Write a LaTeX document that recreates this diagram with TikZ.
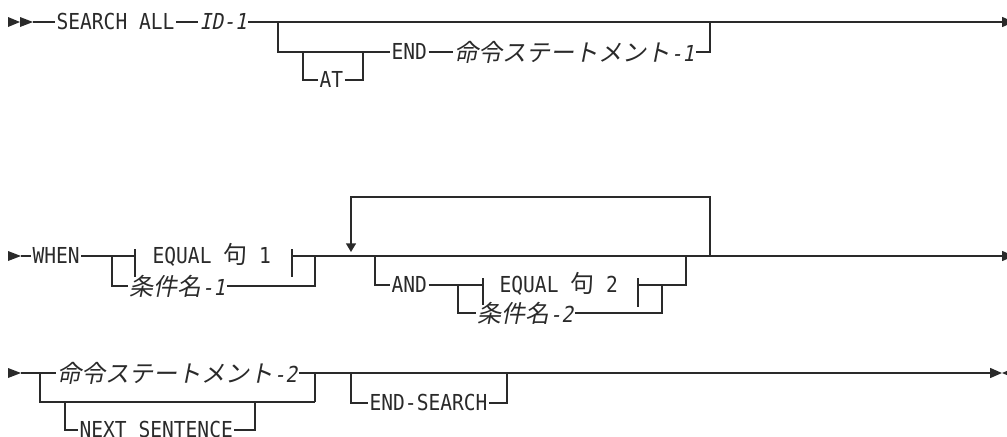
\documentclass[tikz,border=0pt]{standalone}
\usepackage{fontspec}
\usetikzlibrary{arrows.meta}
\newfontfamily\rr[FakeStretch=0.89]{DejaVu Sans Mono}
\newfontfamily\ri[FakeStretch=0.89,FakeSlant=0.2]{DejaVu Sans Mono}
\newfontfamily\jp[FakeSlant=0.2]{Noto Sans CJK JP}
\newfontfamily\jpu{Noto Sans CJK JP}
\definecolor{ink}{HTML}{2A2A2A}
\tikzset{
  lbl/.style={anchor=base west, inner xsep=1pt, inner ysep=0pt, text=ink,
    font=\rr\fontsize{16.5}{18}\selectfont},
  ital/.style={font=\ri\fontsize{16.5}{18}\selectfont},
  jlbl/.style={lbl, font=\jp\fontsize{18}{20}\selectfont},
  rail/.style={draw=ink, line width=1.1pt},
  endtip/.style={-{Triangle[length=9pt,width=7.5pt]}},
  looptip/.style={-{Triangle[length=6.5pt,width=7.5pt]}},
  head/.style={fill=ink}
}
\newcommand\mdash[1]{{\ri\fontsize{16.5}{18}\selectfont #1}}
\begin{document}
\begin{tikzpicture}[x=0.75pt,y=-0.75pt]
\useasboundingbox (0,0) rectangle (1007,436);

% ---------------- Row 1
\fill[head] (8,17) -- (20,22) -- (8,27) -- cycle;
\fill[head] (20,17) -- (33,22) -- (20,27) -- cycle;
\coordinate (s1) at (33,22);
\coordinate (e1) at (1014,22);
\coordinate (b1) at (278,22);
\coordinate (j1) at (710,22);
\coordinate (b2) at (303,52);
\coordinate (j2) at (363,52);
\node[lbl] (sa) at (55,29.5) {SEARCH ALL};
\node[lbl,ital] (id1) at (198,29.5) {ID-1};
\node[lbl] (at) at (318,87.5) {AT};
\node[lbl] (end) at (390,59.5) {END};
\node[jlbl] (st1) at (453,61) {命令ステートメント\mdash{-1}};
\draw[rail] (s1) -- (sa.west |- s1);
\draw[rail] (sa.east |- s1) -- (id1.west |- s1);
\draw[rail,endtip] (id1.east |- s1) -- (e1);
\draw[rail] (b1) |- (end.west |- b2);
\draw[rail] (b2) |- (at.west |- 0,80);
\draw[rail] (at.east |- 0,80) -| (j2);
\draw[rail] (end.east |- b2) -- (st1.west |- b2);
\draw[rail] (st1.east |- b2) -| (j1);

% ---------------- Row 2
\fill[head] (8,251) -- (21,256) -- (8,261) -- cycle;
\coordinate (s2) at (21,256);
\coordinate (e2) at (1014,256);
\coordinate (b3) at (112,256);
\coordinate (f1) at (135,256);
\coordinate (f2) at (292,256);
\coordinate (j3) at (315,256);
\node[lbl] (when) at (31,263.5) {WHEN};
\node[lbl] (eq1) at (151,263.5) {EQUAL {\jpu\fontsize{18}{20}\selectfont 句} 1};
\node[jlbl] (cn1) at (128,295) {条件名\mdash{-1}};
\draw[rail] (s2) -- (when.west |- s2);
\draw[rail] (when.east |- s2) -- (f1);
\draw[rail] (135,249) -- (135,277);
\draw[rail] (292,249) -- (292,277);
\draw[rail] (b3) |- (cn1.west |- 0,286);
\draw[rail] (cn1.east |- 0,286) -| (j3);
\draw[rail,endtip] (f2) -- (e2);
% repeat loop
\coordinate (lj) at (710,256);
\coordinate (lt) at (351,252);
\draw[rail,looptip] (lj) |- (351,197) -- (lt);
% AND group
\coordinate (ba) at (375,256);
\coordinate (bi) at (458,285);
\coordinate (f3) at (483,285);
\coordinate (f4) at (638,285);
\coordinate (ji) at (662,285);
\coordinate (jo) at (686,256);
\node[lbl] (and) at (390,292.5) {AND};
\node[lbl] (eq2) at (498,292.5) {EQUAL {\jpu\fontsize{18}{20}\selectfont 句} 2};
\node[jlbl] (cn2) at (476,322) {条件名\mdash{-2}};
\draw[rail] (ba) |- (and.west |- 0,285);
\draw[rail] (and.east |- 0,285) -- (f3);
\draw[rail] (483,278) -- (483,305);
\draw[rail] (638,278) -- (638,307);
\draw[rail] (f4) -| (jo);
\draw[rail] (bi) |- (cn2.west |- 0,313);
\draw[rail] (cn2.east |- 0,313) -| (ji);

% ---------------- Row 3
\fill[head] (8,368) -- (21,373) -- (8,378) -- cycle;
\coordinate (s3) at (21,373);
\coordinate (b5) at (40,373);
\coordinate (j4) at (315,373);
\coordinate (j5) at (315,402);
\coordinate (b6) at (65,402);
\coordinate (j6) at (255,402);
\coordinate (b7) at (351,373);
\coordinate (j7) at (507,373);
\coordinate (e3) at (1002,373);
\node[jlbl] (st2) at (56,382) {命令ステートメント\mdash{-2}};
\node[lbl] (ns) at (78,437.5) {NEXT SENTENCE};
\node[lbl] (es) at (368,410.5) {END-SEARCH};
\draw[rail] (s3) -- (st2.west |- s3);
\draw[rail] (st2.east |- s3) -| (j5);
\draw[rail] (b5) |- (j5);
\draw[rail] (b6) |- (ns.west |- 0,430);
\draw[rail] (ns.east |- 0,430) -| (j6);
\draw[rail,-{Triangle[length=9pt,width=7.5pt]}] (j4) -- (e3);
\draw[rail] (b7) |- (es.west |- 0,403);
\draw[rail] (es.east |- 0,403) -| (j7);
\fill[head] (1002,373) -- (1014,368) -- (1014,378) -- cycle;
\end{tikzpicture}
\end{document}
